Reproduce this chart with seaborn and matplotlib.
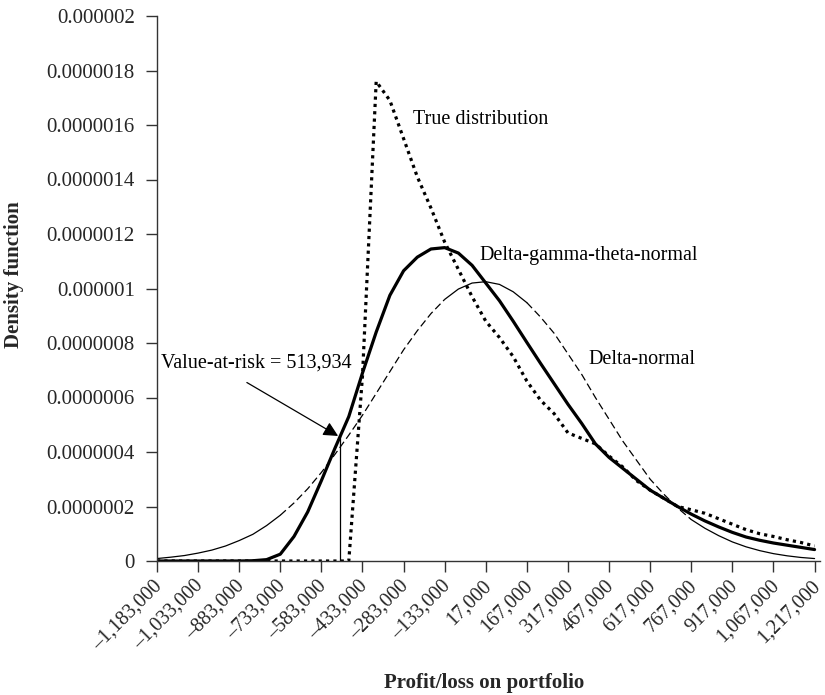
import numpy as np
import pandas as pd
import matplotlib
matplotlib.use("Agg")
import matplotlib.pyplot as plt
from matplotlib.transforms import ScaledTranslation
import seaborn as sns

# profit/loss grid (step 50,000) and densities, in units of 1e-7
pnl = [-1183000 + 50000 * k for k in range(49)]
UNIT = 1e-7

delta_normal = [0.09, 0.14, 0.20, 0.29, 0.40, 0.55, 0.75, 0.98, 1.30, 1.68,
                2.13, 2.65, 3.25, 3.92, 4.62, 5.35, 6.15, 6.95, 7.75, 8.45,
                9.08, 9.60, 9.98, 10.20, 10.25, 10.15, 9.88, 9.48, 8.95, 8.35,
                7.60, 6.85, 6.00, 5.20, 4.40, 3.70, 3.00, 2.45, 1.95, 1.52,
                1.20, 0.93, 0.70, 0.52, 0.38, 0.27, 0.19, 0.13, 0.09]

delta_gamma = [0, 0, 0, 0, 0, 0, 0, 0.01, 0.05, 0.25,
               0.90, 1.80, 2.95, 4.15, 5.30, 6.90, 8.40, 9.75, 10.65, 11.15,
               11.45, 11.50, 11.30, 10.85, 10.20, 9.55, 8.80, 8.02, 7.25, 6.50,
               5.75, 5.05, 4.30, 3.80, 3.40, 3.00, 2.60, 2.30, 2.00, 1.72,
               1.47, 1.25, 1.05, 0.88, 0.76, 0.66, 0.58, 0.50, 0.42]

true_dist = [0, 0, 0, 0, 0, 0, 0, 0, 0, 0,
             0, 0, 0, 0, 0, 6.80, 17.60, 16.90, 15.50, 14.10,
             12.95, 11.70, 10.70, 9.70, 8.80, 8.20, 7.50, 6.60, 5.90, 5.40,
             4.70, 4.50, 4.30, 3.85, 3.45, 2.95, 2.60, 2.30, 2.00, 1.88,
             1.75, 1.55, 1.35, 1.15, 1.00, 0.90, 0.78, 0.68, 0.55]

var_value = 513934

x_ticks = [-1183000 + 150000 * k for k in range(17)]
x_labels = ["\u20131,183,000", "\u20131,033,000", "\u2013883,000", "\u2013733,000",
            "\u2013583,000", "\u2013433,000", "\u2013283,000", "\u2013133,000",
            "17,000", "167,000", "317,000", "467,000", "617,000", "767,000",
            "917,000", "1,067,000", "1,217,000"]
y_ticks = [0, 2e-7, 4e-7, 6e-7, 8e-7, 1e-6, 1.2e-6, 1.4e-6, 1.6e-6, 1.8e-6, 2e-6]
y_labels = ["0", "0.0000002", "0.0000004", "0.0000006", "0.0000008", "0.000001",
            "0.0000012", "0.0000014", "0.0000016", "0.0000018", "0.000002"]

df = pd.DataFrame({
    "pnl": pnl,
    "delta_normal": np.array(delta_normal) * UNIT,
    "delta_gamma": np.array(delta_gamma) * UNIT,
    "true_dist": np.array(true_dist) * UNIT,
})

sns.set_theme(style="ticks")
plt.rcParams["font.family"] = ["Liberation Serif", "DejaVu Serif"]

fig = plt.figure(figsize=(8.25, 6.95), dpi=100)
ax = fig.add_axes([157 / 825, 1 - 561 / 695, 662.5 / 825, 545 / 695])

# delta-normal: thin, solid on the flat parts and dashed on the steep flanks
for lo, hi, ls in [(0, 9, "-"), (9, 21, (0, (6, 3))), (21, 27, "-"),
                   (27, 39, (0, (6, 3))), (39, 48, "-")]:
    sns.lineplot(data=df.iloc[lo:hi + 1], x="pnl", y="delta_normal", ax=ax,
                 color="black", lw=0.9, linestyle=ls, estimator=None)

sns.lineplot(data=df, x="pnl", y="delta_gamma", ax=ax, color="black",
             lw=2.3, estimator=None)
sns.lineplot(data=df, x="pnl", y="true_dist", ax=ax, color="black",
             lw=2.3, linestyle=(0, (1, 1.3)), estimator=None)

# value-at-risk marker
var_x = -var_value
var_top = np.interp(var_x, df["pnl"], df["delta_gamma"])
ax.vlines(var_x, 0, var_top, color="black", lw=0.9)
ax.annotate("", xy=(var_x - 8000, var_top), xytext=(-855000, 6.55e-7),
            arrowprops=dict(arrowstyle="-|>", color="black", lw=0.9,
                            mutation_scale=22, shrinkA=0, shrinkB=0))

txt = dict(fontsize=14.5, color="black", va="center", ha="left")
ax.text(-250000, 1.62e-6, "True distribution", **txt)
ax.text(-5000, 1.12e-6, "Delta-gamma-theta-normal", **txt)
ax.text(390000, 7.38e-7, "Delta-normal", **txt)
ax.text(-1167000, 7.28e-7, "Value-at-risk = 513,934", **txt)

ax.set_xlim(-1183000, 1235000)
ax.set_ylim(0, 2e-6)
ax.set_xticks(x_ticks)
ax.set_xticklabels(x_labels, rotation=45, ha="right", va="top",
                   rotation_mode="anchor", fontsize=14.5)
ax.set_yticks(y_ticks)
ax.set_yticklabels(y_labels, fontsize=15)
ax.tick_params(axis="both", direction="out", length=8, width=1,
               color="#333333")
ax.tick_params(axis="x", pad=3)
ax.tick_params(axis="y", pad=8)

# nudge rotated labels so their ends sit just right of the ticks
shift = ScaledTranslation(-3 / 72, 0, fig.dpi_scale_trans)
for lab in ax.get_xticklabels():
    lab.set_transform(lab.get_transform() + shift)

for side in ["top", "right"]:
    ax.spines[side].set_visible(False)
for side in ["left", "bottom"]:
    ax.spines[side].set_color("#333333")
    ax.spines[side].set_linewidth(1)

ax.set_xlabel("Profit/loss on portfolio", fontsize=15, fontweight="bold")
ax.set_ylabel("Density function", fontsize=15, fontweight="bold")
ax.xaxis.set_label_coords(0.494, -0.2055)
ax.yaxis.set_label_coords(-0.2, 0.525)

fig.savefig("out.png", dpi=100)
